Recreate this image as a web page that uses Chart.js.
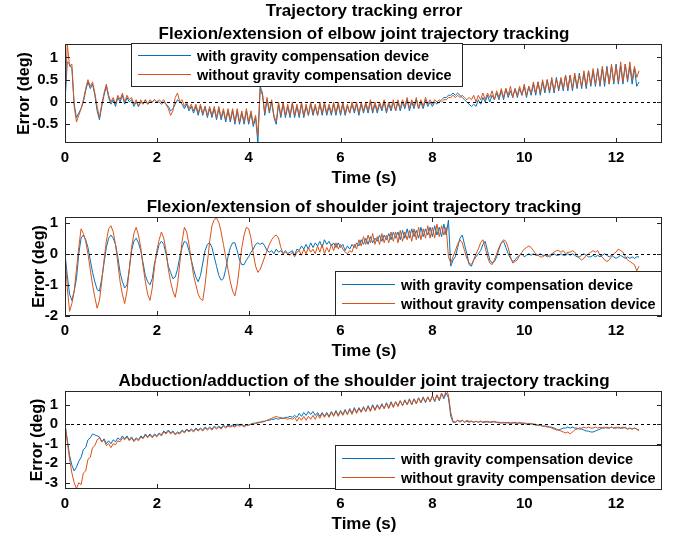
<!DOCTYPE html>
<html>
<head>
<meta charset="utf-8">
<script src="https://cdn.jsdelivr.net/npm/chart.js@4.4.1/dist/chart.umd.min.js"></script>
<style>
    html, body { margin: 0; padding: 0; background: #fff; }
    #wrap { position: relative; width: 676px; height: 537px; overflow: hidden; }
    #wrap canvas { position: absolute; left: 0; }
</style>
</head>
<body>
<div id="wrap">
    <canvas id="c1" width="676" height="192" style="top:0px"></canvas>
    <canvas id="c2" width="676" height="176" style="top:192px"></canvas>
    <canvas id="c3" width="676" height="169" style="top:368px"></canvas>
</div>
<script>
// sample step of the recorded error (s)
const STEP = 0.05;
const xTicks = [0, 2, 4, 6, 8, 10, 12];
const elbowTicks = [-0.5, 0, 0.5, 1];
const shoulderFlexTicks = [-2, -1, 0, 1];
const shoulderAbdTicks = [-3, -2, -1, 0, 1];

const seriesNames = ["with gravity compensation device", "without gravity compensation device"];

// elbow flexion/extension error (deg), one row = 0.5 s, t = 0 .. 12.5 s
const elbowWith = [
    0, 0.9, 0.85, 0.75, -0.05, -0.35, -0.25, -0.15, 0, 0.25,
    0.45, 0.3, 0.4, 0.15, -0.2, -0.4, -0.1, 0.15, 0.35, 0.1,
    -0.05, 0.05, -0.1, 0.1, 0, 0.15, -0.05, 0.1, 0, 0.05,
    -0.1, 0, -0.1, 0, -0.05, 0.05, -0.05, 0, 0, 0.05,
    0, 0, -0.05, 0, -0.05, -0.1, -0.2, -0.15, -0.05, 0.05,
    0, -0.05, -0.15, -0.05, -0.2, -0.1, -0.25, -0.1, -0.3, -0.1,
    -0.3, -0.1, -0.35, -0.15, -0.35, -0.15, -0.4, -0.15, -0.4, -0.2,
    -0.45, -0.2, -0.45, -0.2, -0.5, -0.2, -0.5, -0.25, -0.5, -0.2,
    -0.5, -0.25, -0.55, -0.35, -0.92, 0.35, 0.2, -0.3, 0.05, -0.25,
    0, -0.35, -0.5, -0.05, -0.35, -0.05, -0.35, -0.1, -0.35, -0.05,
    -0.35, -0.1, -0.35, -0.05, -0.35, -0.1, -0.3, -0.05, -0.3, -0.1,
    -0.3, -0.05, -0.3, -0.05, -0.3, -0.1, -0.3, -0.05, -0.3, -0.05,
    -0.3, -0.05, -0.3, -0.1, -0.25, -0.05, -0.25, -0.05, -0.3, -0.05,
    -0.25, -0.05, -0.25, 0, -0.25, -0.05, -0.25, -0.05, -0.2, 0,
    -0.25, -0.05, -0.2, 0, -0.2, 0, -0.2, 0, -0.15, 0.05,
    -0.2, 0, -0.15, 0.05, -0.15, 0, -0.15, 0.05, -0.1, 0,
    -0.1, 0, -0.05, 0, 0.05, 0.1, 0.1, 0.15, 0.15, 0.2,
    0.15, 0.2, 0.15, 0.1, 0.05, 0, -0.05, -0.1, -0.05, -0.1,
    0.05, -0.05, 0.1, 0, 0.15, 0, 0.15, 0.05, 0.2, 0.05,
    0.25, 0.05, 0.3, 0.1, 0.25, 0.1, 0.3, 0.1, 0.3, 0.15,
    0.35, 0.1, 0.35, 0.15, 0.4, 0.15, 0.45, 0.15, 0.45, 0.2,
    0.5, 0.2, 0.5, 0.2, 0.55, 0.25, 0.5, 0.25, 0.6, 0.25,
    0.6, 0.25, 0.6, 0.3, 0.65, 0.3, 0.65, 0.3, 0.7, 0.35,
    0.7, 0.35, 0.75, 0.35, 0.75, 0.35, 0.8, 0.4, 0.8, 0.4,
    0.85, 0.4, 0.8, 0.4, 0.85, 0.45, 0.8, 0.4, 0.75, 0.35,
    0.45
];
const elbowWithout = [
    0, 1.3, 0.8, 0.85, -0.1, -0.45, -0.3, -0.15, 0.05, 0.3,
    0.5, 0.35, 0.45, 0.2, -0.1, -0.35, -0.05, 0.2, 0.4, 0.15,
    0, 0.1, -0.05, 0.15, 0.05, 0.2, 0, 0.15, 0.05, 0.1,
    -0.05, 0.05, -0.1, 0.05, -0.05, 0.05, -0.05, 0.05, 0, 0.05,
    0, 0.05, 0, 0.05, -0.05, -0.15, -0.3, -0.2, 0.1, 0.2,
    0, 0.05, -0.1, 0, -0.15, -0.05, -0.2, -0.05, -0.25, -0.05,
    -0.25, -0.1, -0.3, -0.1, -0.3, -0.1, -0.35, -0.1, -0.35, -0.15,
    -0.4, -0.15, -0.4, -0.15, -0.45, -0.15, -0.45, -0.2, -0.45, -0.15,
    -0.45, -0.2, -0.5, -0.3, -0.75, 0.3, 0.15, -0.25, 0.1, -0.2,
    0.05, -0.3, -0.45, 0, -0.3, 0, -0.3, -0.05, -0.3, 0,
    -0.3, -0.05, -0.3, 0, -0.3, -0.05, -0.3, 0, -0.25, -0.05,
    -0.3, 0, -0.25, 0, -0.25, -0.05, -0.25, 0, -0.25, 0,
    -0.25, 0, -0.25, -0.05, -0.25, 0, -0.2, 0, -0.25, 0,
    -0.2, 0, -0.2, 0.05, -0.2, 0, -0.2, 0, -0.15, 0.05,
    -0.2, 0, -0.15, 0.05, -0.2, 0.05, -0.15, 0.05, -0.1, 0.1,
    -0.15, 0.05, -0.1, 0.1, -0.15, 0.05, -0.1, 0.1, -0.05, 0.05,
    -0.05, 0.05, 0, 0.05, 0, 0.05, 0.05, 0.1, 0.1, 0.15,
    0.1, 0.15, 0.1, 0.15, 0.1, 0.05, 0.1, 0.05, 0.15, 0,
    0.15, 0.05, 0.2, 0.05, 0.2, 0.1, 0.25, 0.05, 0.25, 0.1,
    0.3, 0.1, 0.3, 0.15, 0.35, 0.1, 0.3, 0.15, 0.35, 0.15,
    0.4, 0.15, 0.35, 0.2, 0.45, 0.2, 0.45, 0.2, 0.5, 0.25,
    0.5, 0.25, 0.55, 0.25, 0.5, 0.3, 0.55, 0.3, 0.6, 0.3,
    0.6, 0.3, 0.65, 0.35, 0.6, 0.35, 0.7, 0.35, 0.7, 0.4,
    0.75, 0.4, 0.7, 0.4, 0.8, 0.45, 0.75, 0.4, 0.85, 0.45,
    0.8, 0.45, 0.9, 0.45, 0.85, 0.5, 0.9, 0.5, 0.8, 0.55,
    0.7
];

// shoulder flexion/extension error (deg)
const shoulderFlexWith = [
    0, -0.7, -1.3, -1.5, -1.2, -0.8, 0, 0.5, 0.6, 0.45,
    0.2, -0.2, -0.6, -0.9, -1.15, -1.2, -0.8, -0.3, 0.2, 0.5,
    0.6, 0.5, 0.3, -0.1, -0.6, -0.9, -1.1, -1.0, -0.5, 0.1,
    0.4, 0.5, 0.35, 0.1, -0.3, -0.7, -0.9, -1.0, -0.8, -0.3,
    0, 0.3, 0.4, 0.3, 0, -0.4, -0.6, -0.8, -0.75, -0.5,
    -0.1, 0.2, 0.4, 0.35, 0.1, -0.2, -0.5, -0.75, -0.9, -0.7,
    -0.3, 0.1, 0.3, 0.35, 0.2, -0.1, -0.4, -0.7, -0.85, -0.8,
    -0.5, -0.1, 0.2, 0.35, 0.35, 0.1, -0.2, -0.35, -0.35, -0.2,
    -0.1, 0.05, 0.15, 0.3, 0.35, 0.3, 0.35, 0.25, 0.1, 0.05,
    0.1, 0, 0.15, 0.05, 0.1, 0, 0.1, 0, 0.05, 0.1,
    -0.05, 0.15, 0.1, 0.25, 0.15, 0.3, 0.15, 0.35, 0.2, 0.35,
    0.25, 0.4, 0.2, 0.45, 0.3, 0.4, 0.25, 0.35, 0.2, 0.35,
    0.2, 0.3, 0.1, 0.25, 0.15, 0.3, 0.2, 0.35, 0.25, 0.45,
    0.3, 0.5, 0.3, 0.55, 0.35, 0.5, 0.4, 0.6, 0.4, 0.6,
    0.45, 0.65, 0.45, 0.7, 0.5, 0.7, 0.45, 0.75, 0.5, 0.8,
    0.5, 0.8, 0.55, 0.75, 0.5, 0.85, 0.55, 0.8, 0.6, 0.85,
    0.55, 0.9, 0.6, 0.85, 0.55, 0.95, 0.6, 1.08, -0.4, -0.2,
    -0.1, 0.2, 0.5, 0.6, 0.3, 0, -0.35, -0.4, -0.2, -0.1,
    0, 0.1, 0.3, 0.4, 0.1, -0.2, -0.3, -0.25, -0.1, 0.15,
    0.35, 0.4, 0.2, 0, -0.15, -0.25, -0.2, -0.1, -0.05, 0,
    -0.1, -0.05, 0, -0.05, 0, -0.05, -0.05, 0, -0.05, -0.05,
    -0.05, -0.1, -0.05, 0, -0.05, -0.05, 0, -0.05, -0.05, 0,
    -0.05, 0, -0.05, -0.1, -0.1, -0.05, 0, -0.05, -0.1, -0.1,
    -0.05, -0.1, -0.05, -0.1, -0.05, 0, -0.05, -0.1, -0.05, -0.1,
    -0.15, -0.1, -0.05, -0.1, -0.15, -0.1, -0.15, -0.1, -0.15, -0.1,
    -0.1
];
const shoulderFlexWithout = [
    0, -1.1, -1.85, -1.6, -1.2, -0.5, 0.2, 0.8, 0.65, 0.4,
    0, -0.5, -1.0, -1.4, -1.75, -1.5, -0.9, -0.2, 0.4, 0.8,
    0.9, 0.7, 0.3, -0.3, -0.9, -1.3, -1.6, -1.2, -0.5, 0.2,
    0.65, 0.85, 0.6, 0.2, -0.4, -0.9, -1.3, -1.5, -1.1, -0.4,
    0.1, 0.45, 0.7, 0.5, 0.1, -0.5, -0.9, -1.2, -1.4, -1.0,
    -0.3, 0.4, 0.85, 0.7, 0.3, -0.2, -0.7, -1.0, -1.3, -1.45,
    -1.5, -1.0, -0.3, 0.4, 0.9, 1.1, 1.15, 1.0, 0.7, 0.3,
    -0.1, -0.5, -0.9, -1.2, -1.35, -1.0, -0.4, 0.2, 0.6, 0.85,
    0.8, 0.5, 0, -0.4, -0.6, -0.5, -0.3, -0.1, 0.1, 0.3,
    0.45, 0.55, 0.6, 0.5, 0.2, 0, 0.05, 0, -0.05, 0.05,
    -0.1, 0.05, 0.1, -0.05, 0.15, 0, 0.2, 0.05, 0.15, 0,
    0.25, 0.05, 0.3, 0, 0.2, 0.05, 0.3, 0.1, 0.35, 0.15,
    0.3, 0.15, 0.05, 0, 0.1, 0.05, 0.3, 0.15, 0.45, 0.25,
    0.55, 0.3, 0.6, 0.35, 0.65, 0.3, 0.55, 0.3, 0.65, 0.35,
    0.6, 0.35, 0.7, 0.4, 0.7, 0.35, 0.75, 0.4, 0.7, 0.45,
    0.75, 0.4, 0.8, 0.45, 0.85, 0.45, 0.8, 0.5, 0.9, 0.5,
    0.85, 0.5, 0.95, 0.55, 0.9, 0.6, 0.85, -0.1, -0.3, -0.1,
    0.1, 0.3, 0.45, 0.35, 0.1, -0.15, -0.3, -0.35, -0.2, 0,
    0.15, 0.35, 0.45, 0.2, -0.1, -0.3, -0.35, -0.2, 0, 0.2,
    0.35, 0.45, 0.4, 0.2, -0.1, -0.3, -0.25, -0.2, -0.05, 0.05,
    0.15, 0.2, 0.25, 0.2, 0.1, 0, -0.05, -0.1, -0.1, -0.05,
    -0.1, -0.05, 0, 0.05, 0.1, 0.1, 0.05, 0.1, 0, 0.05,
    0.05, 0.1, 0.05, -0.05, -0.15, -0.2, -0.15, -0.05, 0, 0.05,
    0.1, 0.05, 0.1, -0.05, -0.1, -0.2, -0.25, -0.2, -0.1, 0,
    0.05, 0.15, 0.1, 0.05, -0.1, -0.2, -0.25, -0.3, -0.35, -0.55,
    -0.4
];

// shoulder abduction/adduction error (deg)
const shoulderAbdWith = [
    0, -0.8, -1.6, -2.1, -2.4, -2.2, -1.9, -1.7, -1.3, -1.2,
    -0.8, -0.7, -0.5, -0.55, -0.6, -0.65, -0.9, -0.75, -1.0, -0.85,
    -1.0, -0.8, -0.9, -0.7, -0.8, -0.6, -0.75, -0.6, -0.8, -0.65,
    -0.85, -0.7, -0.8, -0.6, -0.7, -0.5, -0.65, -0.5, -0.65, -0.5,
    -0.6, -0.45, -0.55, -0.35, -0.45, -0.3, -0.45, -0.35, -0.5, -0.4,
    -0.45, -0.3, -0.4, -0.25, -0.35, -0.25, -0.35, -0.2, -0.3, -0.2,
    -0.3, -0.15, -0.25, -0.15, -0.25, -0.1, -0.2, -0.1, -0.2, -0.05,
    -0.15, -0.05, -0.1, -0.05, -0.1, 0, -0.05, 0, -0.1, -0.05,
    -0.05, 0, 0.05, 0.05, 0.1, 0.1, 0.15, 0.15, 0.2, 0.2,
    0.25, 0.25, 0.3, 0.25, 0.3, 0.3, 0.35, 0.35, 0.4, 0.35,
    0.45, 0.35, 0.55, 0.4, 0.6, 0.45, 0.65, 0.5, 0.65, 0.45,
    0.6, 0.4, 0.6, 0.4, 0.6, 0.4, 0.65, 0.45, 0.7, 0.45,
    0.7, 0.5, 0.75, 0.5, 0.8, 0.55, 0.85, 0.6, 0.85, 0.65,
    0.9, 0.65, 0.95, 0.7, 1.0, 0.75, 1.0, 0.8, 1.05, 0.8,
    1.1, 0.85, 1.15, 0.9, 1.15, 0.95, 1.2, 0.95, 1.25, 1.0,
    1.3, 1.0, 1.3, 1.05, 1.35, 1.1, 1.4, 1.1, 1.4, 1.15,
    1.45, 1.15, 1.5, 1.2, 1.55, 1.3, 1.6, 1.35, 0.4, 0.1,
    0.1, 0.2, 0.1, 0.2, 0.1, 0.15, 0.1, 0.15, 0.1, 0.15,
    0.1, 0.15, 0.1, 0.1, 0.15, 0.1, 0.1, 0.15, 0.1, 0.1,
    0.05, 0.1, 0.05, 0.1, 0.05, 0.05, 0.1, 0.05, 0.05, 0.05,
    0.05, 0, 0.05, 0, 0, -0.05, -0.05, -0.05, -0.1, -0.1,
    -0.1, -0.15, -0.15, -0.2, -0.25, -0.3, -0.25, -0.2, -0.2, -0.15,
    -0.2, -0.15, -0.2, -0.2, -0.25, -0.25, -0.3, -0.35, -0.35, -0.4,
    -0.4, -0.35, -0.3, -0.25, -0.2, -0.2, -0.15, -0.2, -0.15, -0.2,
    -0.2, -0.15, -0.2, -0.2, -0.15, -0.25, -0.2, -0.25, -0.2, -0.25,
    -0.3
];
const shoulderAbdWithout = [
    0, -0.9, -1.8, -2.5, -3.0, -3.3, -3.0, -3.1, -2.5, -2.4,
    -1.8, -1.7, -1.2, -1.1, -0.8, -0.7, -0.9, -0.8, -1.1, -1.0,
    -1.2, -1.0, -1.05, -0.85, -0.9, -0.7, -0.8, -0.65, -0.85, -0.7,
    -0.9, -0.75, -0.85, -0.65, -0.75, -0.55, -0.7, -0.55, -0.7, -0.55,
    -0.65, -0.5, -0.6, -0.4, -0.5, -0.35, -0.5, -0.4, -0.55, -0.45,
    -0.5, -0.35, -0.45, -0.3, -0.4, -0.3, -0.4, -0.25, -0.35, -0.25,
    -0.35, -0.2, -0.3, -0.2, -0.3, -0.15, -0.25, -0.15, -0.25, -0.1,
    -0.2, -0.1, -0.15, -0.1, -0.15, -0.05, -0.1, -0.05, -0.15, -0.05,
    -0.05, 0, 0, 0.05, 0.05, 0.1, 0.1, 0.15, 0.2, 0.25,
    0.3, 0.35, 0.4, 0.35, 0.35, 0.3, 0.3, 0.25, 0.3, 0.25,
    0.35, 0.15, 0.35, 0.2, 0.4, 0.2, 0.4, 0.25, 0.45, 0.25,
    0.5, 0.3, 0.55, 0.35, 0.55, 0.35, 0.6, 0.4, 0.65, 0.4,
    0.65, 0.45, 0.7, 0.5, 0.75, 0.5, 0.8, 0.55, 0.8, 0.6,
    0.85, 0.65, 0.9, 0.65, 0.95, 0.7, 0.95, 0.75, 1.0, 0.8,
    1.05, 0.8, 1.1, 0.85, 1.15, 0.9, 1.2, 0.95, 1.2, 1.0,
    1.25, 1.0, 1.3, 1.05, 1.35, 1.1, 1.35, 1.15, 1.4, 1.15,
    1.45, 1.2, 1.5, 1.25, 1.6, 1.35, 1.75, 1.5, 0.6, 0.15,
    0.1, 0.2, 0.15, 0.2, 0.1, 0.2, 0.15, 0.15, 0.1, 0.15,
    0.1, 0.15, 0.1, 0.15, 0.1, 0.1, 0.15, 0.1, 0.1, 0.05,
    0.1, 0.05, 0.1, 0.05, 0.05, 0.1, 0.05, 0.05, 0.1, 0.05,
    0.05, 0.05, 0, 0.05, 0, 0, -0.05, -0.05, -0.1, -0.1,
    -0.15, -0.15, -0.2, -0.25, -0.3, -0.3, -0.35, -0.4, -0.45, -0.4,
    -0.5, -0.4, -0.3, -0.25, -0.2, -0.2, -0.15, -0.2, -0.15, -0.2,
    -0.2, -0.15, -0.2, -0.15, -0.2, -0.15, -0.2, -0.2, -0.15, -0.2,
    -0.15, -0.2, -0.2, -0.15, -0.2, -0.25, -0.2, -0.25, -0.2, -0.25,
    -0.35
];

const time = elbowWith.map((_, i) => +(i * STEP).toFixed(2));

const FONT = '"Liberation Sans", Arial, Helvetica, sans-serif';
const BLUE = "#0072BD";
const ORANGE = "#D95319";
const INK = "#262626";
const CENTER_X = 364;

const toPoints = (values) => values.map((v, i) => ({ x: time[i], y: v }));

// MATLAB style box, inward ticks, dashed zero line, texts and legend
const matlabLook = {
    id: "matlabLook",
    afterDatasetsDraw(chart, args, opts) {
        const { ctx, chartArea: a, scales: { x, y } } = chart;
        ctx.save();

        const y0 = Math.round(y.getPixelForValue(0)) + 0.5;
        ctx.strokeStyle = "#000";
        ctx.lineWidth = 1;
        ctx.setLineDash([3, 3]);
        ctx.beginPath();
        ctx.moveTo(a.left, y0);
        ctx.lineTo(a.right, y0);
        ctx.stroke();
        ctx.setLineDash([]);

        ctx.strokeStyle = INK;
        ctx.beginPath();
        x.ticks.forEach((t) => {
            const px = Math.round(x.getPixelForValue(t.value)) + 0.5;
            ctx.moveTo(px, a.bottom);
            ctx.lineTo(px, a.bottom - 5);
            ctx.moveTo(px, a.top);
            ctx.lineTo(px, a.top + 5);
        });
        y.ticks.forEach((t) => {
            const py = Math.round(y.getPixelForValue(t.value)) + 0.5;
            ctx.moveTo(a.left, py);
            ctx.lineTo(a.left + 5, py);
            ctx.moveTo(a.right, py);
            ctx.lineTo(a.right - 5, py);
        });
        ctx.stroke();
        ctx.strokeRect(a.left + 0.5, a.top + 0.5, a.right - a.left - 1, a.bottom - a.top - 1);

        const lg = opts.legend;
        ctx.fillStyle = "#fff";
        ctx.fillRect(lg.x, lg.y, lg.w, lg.h);
        ctx.strokeRect(lg.x + 0.5, lg.y + 0.5, lg.w, lg.h);
        ctx.font = `bold 14.5px ${FONT}`;
        ctx.textBaseline = "middle";
        ctx.textAlign = "left";
        chart.data.datasets.forEach((ds, i) => {
            const rowY = Math.round(lg.y + lg.h / 2 + (i === 0 ? -9.5 : 9.5)) + 0.5;
            ctx.strokeStyle = ds.borderColor;
            ctx.lineWidth = 1.2;
            ctx.beginPath();
            ctx.moveTo(lg.x + 7, rowY);
            ctx.lineTo(lg.x + 60, rowY);
            ctx.stroke();
            ctx.fillStyle = "#000";
            ctx.fillText(ds.label, lg.x + 66, rowY + 1);
        });

        ctx.restore();
    },
    afterDraw(chart, args, opts) {
        const { ctx, chartArea: a } = chart;
        ctx.save();
        ctx.fillStyle = "#000";
        ctx.textAlign = "center";
        ctx.textBaseline = "middle";
        ctx.font = `bold 17px ${FONT}`;
        if (opts.mainTitle) {
            ctx.fillText(opts.mainTitle, CENTER_X, 11);
        }
        ctx.fillText(opts.title, CENTER_X, a.top - 10);
        ctx.fillText("Time (s)", CENTER_X, a.bottom + 35);
        ctx.font = `bold 16px ${FONT}`;
        ctx.translate(opts.ylabelX, (a.top + a.bottom) / 2);
        ctx.rotate(-Math.PI / 2);
        ctx.fillText("Error (deg)", 0, 0);
        ctx.restore();
    }
};

const makeChart = (id, cfg) => new Chart(document.getElementById(id), {
    type: "line",
    data: {
        datasets: [
            {
                label: seriesNames[0],
                data: toPoints(cfg.withData),
                borderColor: BLUE,
                borderWidth: 1,
                pointRadius: 0,
                tension: 0,
                order: 1
            },
            {
                label: seriesNames[1],
                data: toPoints(cfg.withoutData),
                borderColor: ORANGE,
                borderWidth: 1,
                pointRadius: 0,
                tension: 0,
                order: 0
            }
        ]
    },
    options: {
        responsive: false,
        animation: false,
        devicePixelRatio: 1,
        layout: { padding: { left: 0, right: 14, top: cfg.top, bottom: 0 } },
        plugins: {
            legend: { display: false },
            tooltip: { enabled: false },
            matlabLook: {
                mainTitle: cfg.mainTitle,
                title: cfg.title,
                ylabelX: cfg.ylabelX,
                legend: cfg.legend
            }
        },
        scales: {
            x: {
                type: "linear",
                min: 0,
                max: 13,
                afterBuildTicks: (scale) => {
                    scale.ticks = xTicks.map((v) => ({ value: v }));
                },
                afterFit: (scale) => {
                    scale.height = cfg.bottom;
                },
                grid: { display: false, drawTicks: false },
                border: { display: false },
                ticks: {
                    color: "#000",
                    padding: 6,
                    maxRotation: 0,
                    callback: (v) => `${v}`,
                    font: { family: FONT, size: 15, weight: "bold" }
                }
            },
            y: {
                min: cfg.yMin,
                max: cfg.yMax,
                afterBuildTicks: (scale) => {
                    scale.ticks = cfg.yTicks.map((v) => ({ value: v }));
                },
                afterFit: (scale) => {
                    scale.width = 65;
                },
                grid: { display: false, drawTicks: false },
                border: { display: false },
                ticks: {
                    color: "#000",
                    padding: 7,
                    callback: (v) => `${v}`,
                    font: { family: FONT, size: 15, weight: "bold" }
                }
            }
        }
    },
    plugins: [matlabLook]
});

makeChart("c1", {
    withData: elbowWith,
    withoutData: elbowWithout,
    mainTitle: "Trajectory tracking error",
    title: "Flexion/extension of elbow joint trajectory tracking",
    top: 44,
    bottom: 49,
    yMin: -0.92,
    yMax: 1.3,
    yTicks: elbowTicks,
    ylabelX: 25,
    legend: { x: 131, y: 43, w: 331, h: 43 }
});

makeChart("c2", {
    withData: shoulderFlexWith,
    withoutData: shoulderFlexWithout,
    title: "Flexion/extension of shoulder joint trajectory tracking",
    top: 25,
    bottom: 52,
    yMin: -2,
    yMax: 1.18,
    yTicks: shoulderFlexTicks,
    ylabelX: 40,
    legend: { x: 335, y: 79, w: 326, h: 44 }
});

makeChart("c3", {
    withData: shoulderAbdWith,
    withoutData: shoulderAbdWithout,
    title: "Abduction/adduction of the shoulder joint trajectory tracking",
    top: 23,
    bottom: 48,
    yMin: -3.32,
    yMax: 1.7,
    yTicks: shoulderAbdTicks,
    ylabelX: 38,
    legend: { x: 335, y: 77, w: 326, h: 44 }
});
</script>
</body>
</html>
